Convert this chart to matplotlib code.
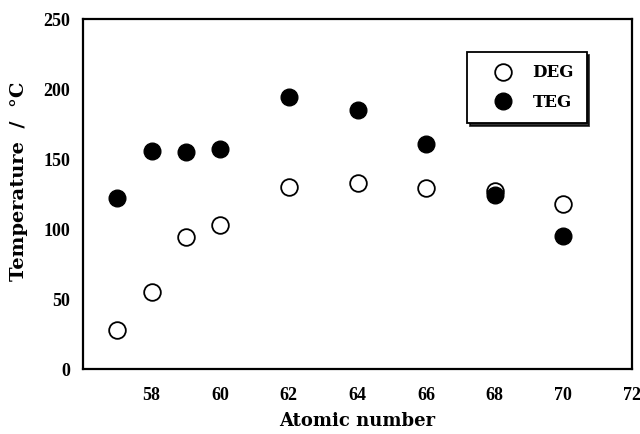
import matplotlib
matplotlib.use("Agg")
import matplotlib.pyplot as plt

atomic = [57, 58, 59, 60, 62, 64, 66, 68, 70]
deg = [28, 55, 94, 103, 130, 133, 129, 127, 118]
teg = [122, 156, 155, 157, 194, 185, 161, 124, 95]
xticks = [58, 60, 62, 64, 66, 68, 70, 72]
yticks = [0, 50, 100, 150, 200, 250]

plt.rcParams['font.family'] = ['Liberation Serif', 'DejaVu Serif']
plt.rcParams['font.weight'] = 'bold'

fig = plt.figure(figsize=(6.4, 4.34), dpi=100)
ax = fig.add_axes([83/640, 1-369/434, 549/640, 350/434])

ax.plot(atomic, deg, 'o', ms=12, mfc='white', mec='black', mew=1.3, label='DEG', zorder=2)
ax.plot(atomic, teg, 'o', ms=12, mfc='black', mec='black', label='TEG', zorder=3)

ax.set_xlim(56, 72)
ax.set_ylim(0, 250)
ax.set_xticks(xticks)
ax.set_yticks(yticks)
ax.tick_params(length=0, labelsize=13)
ax.tick_params(axis='x', pad=13)
ax.tick_params(axis='y', pad=9)
for lab in ax.get_xticklabels() + ax.get_yticklabels():
    lab.set_fontweight('bold')
for s in ax.spines.values():
    s.set_linewidth(1.6)
ax.set_xlabel('Atomic number', fontsize=13, fontweight='bold', labelpad=6,
              family=['DejaVu Serif'])
ax.set_ylabel('Temperature  /  °C', fontsize=14, fontweight='bold',
              family=['DejaVu Serif'])
ax.yaxis.set_label_coords(-0.10, 0.537)

leg = ax.legend(loc='upper left', bbox_to_anchor=(0.699, 0.906), frameon=True,
                fancybox=False, shadow={'color': 'black', 'alpha': 0.8}, edgecolor='black',
                prop={'weight': 'bold', 'size': 12, 'family': 'DejaVu Serif'},
                handletextpad=0.4, borderpad=0.75, labelspacing=0.75,
                handlelength=2.8, borderaxespad=0)
leg.set_zorder(5)
leg.get_frame().set_linewidth(1.3)

fig.savefig('out.png', dpi=100)
